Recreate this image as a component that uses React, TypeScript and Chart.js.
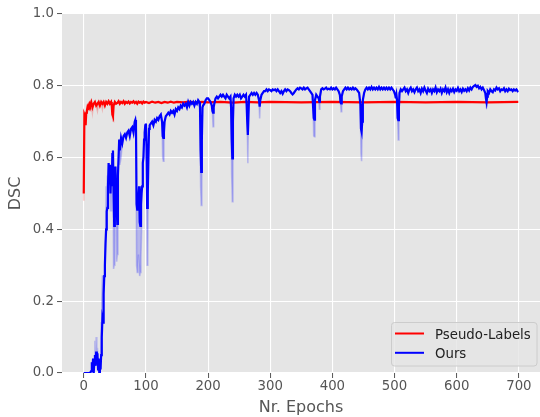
import React, { useEffect, useRef } from "react";
import { Chart, registerables } from "chart.js";

Chart.register(...registerables);

const xTicks = [0, 100, 200, 300, 400, 500, 600, 700];
const yTicks = [0, 0.2, 0.4, 0.6, 0.8, 1.0];
const seriesNames = ["Pseudo-Labels", "Ours"];
const seriesColors = ["#ff0000", "#0000ff"];
const xTitle = "Nr. Epochs";
const yTitle = "DSC";

// [epoch, DSC]
const pseudoCurve: [number, number][] = [
  [0, 0.5], [1, 0.72], [2, 0.715], [3, 0.69], [4, 0.725], [5, 0.73], [6, 0.74], [7, 0.735], [8, 0.745], [9, 0.75],
  [10, 0.745], [12, 0.755], [14, 0.74], [16, 0.75], [18, 0.755], [20, 0.745], [22, 0.75], [24, 0.755], [26, 0.745],
  [28, 0.755], [30, 0.75], [32, 0.755], [34, 0.745], [36, 0.755], [38, 0.75], [40, 0.757], [42, 0.75], [44, 0.755],
  [45, 0.745], [46, 0.72], [47, 0.715], [48, 0.745], [50, 0.755], [52, 0.75], [54, 0.752], [56, 0.757], [58, 0.75],
  [60, 0.755], [62, 0.752], [64, 0.757], [66, 0.75], [68, 0.755], [70, 0.752], [72, 0.756], [74, 0.751], [76, 0.755],
  [78, 0.753], [80, 0.757], [82, 0.752], [84, 0.755], [86, 0.75], [88, 0.756], [90, 0.753], [92, 0.755], [94, 0.751],
  [96, 0.756], [98, 0.753], [100, 0.755], [105, 0.752], [110, 0.756], [115, 0.753], [120, 0.755], [125, 0.752],
  [130, 0.755], [135, 0.753], [140, 0.756], [145, 0.753], [150, 0.755], [160, 0.754], [170, 0.756], [180, 0.753],
  [190, 0.755], [200, 0.754], [220, 0.755], [240, 0.753], [260, 0.755], [280, 0.754], [300, 0.755], [350, 0.754],
  [400, 0.755], [450, 0.754], [500, 0.755], [550, 0.754], [600, 0.755], [650, 0.754], [699, 0.755],
];

// lighter band extremes around the Pseudo-Labels curve
const pseudoBand: [number, number][] = [
  [0, 0.48], [14, 0.725], [22, 0.73], [30, 0.735], [47, 0.7],
];

const oursCurve: [number, number][] = [
  [0, 0], [5, 0], [10, 0], [12, 0.005], [13, 0.03], [14, 0.01], [15, 0.04], [16, 0.0], [17, 0.03], [18, 0.05],
  [19, 0.02], [20, 0.06], [21, 0.03], [22, 0.055], [23, 0.01], [24, 0.04], [25, 0.0], [26, 0.03], [27, 0.01],
  [28, 0.05], [29, 0.1], [30, 0.15], [31, 0.14], [32, 0.22], [33, 0.27], [34, 0.3], [35, 0.36], [36, 0.4],
  [37, 0.45], [38, 0.46], [39, 0.52], [40, 0.585], [41, 0.54], [42, 0.58], [43, 0.5], [44, 0.56], [45, 0.52],
  [46, 0.61], [47, 0.62], [48, 0.5], [49, 0.41], [50, 0.55], [51, 0.575], [52, 0.5], [53, 0.46], [54, 0.415],
  [55, 0.55], [56, 0.6], [57, 0.65], [58, 0.62], [60, 0.655], [62, 0.64], [64, 0.66], [66, 0.665], [68, 0.655],
  [70, 0.67], [72, 0.675], [74, 0.66], [76, 0.68], [78, 0.685], [80, 0.67], [82, 0.7], [83, 0.705], [84, 0.69],
  [85, 0.47], [86, 0.455], [87, 0.5], [88, 0.49], [89, 0.52], [90, 0.42], [91, 0.41], [92, 0.47], [93, 0.5],
  [94, 0.52], [95, 0.585], [96, 0.6], [97, 0.65], [98, 0.67], [99, 0.69], [100, 0.695], [101, 0.63], [102, 0.46],
  [103, 0.5], [104, 0.6], [105, 0.68], [106, 0.69], [108, 0.695], [110, 0.7], [112, 0.69], [114, 0.705],
  [116, 0.7], [118, 0.71], [120, 0.705], [122, 0.715], [124, 0.72], [126, 0.7], [127, 0.66], [128, 0.655],
  [129, 0.67], [130, 0.7], [132, 0.715], [134, 0.72], [136, 0.725], [138, 0.72], [140, 0.73], [142, 0.725],
  [144, 0.73], [146, 0.72], [148, 0.735], [150, 0.73], [152, 0.74], [154, 0.735], [156, 0.745], [158, 0.74],
  [160, 0.75], [162, 0.745], [164, 0.75], [166, 0.74], [168, 0.755], [170, 0.745], [172, 0.755], [174, 0.75],
  [176, 0.755], [178, 0.745], [180, 0.755], [182, 0.75], [184, 0.76], [186, 0.755], [187, 0.74], [188, 0.62],
  [189, 0.56], [190, 0.65], [191, 0.74], [192, 0.745], [194, 0.75], [196, 0.76], [198, 0.765], [200, 0.765],
  [202, 0.76], [204, 0.755], [206, 0.745], [207, 0.73], [208, 0.725], [209, 0.74], [210, 0.75], [212, 0.765],
  [214, 0.77], [216, 0.765], [218, 0.77], [220, 0.775], [222, 0.77], [224, 0.775], [226, 0.77], [228, 0.765],
  [230, 0.775], [232, 0.77], [234, 0.765], [236, 0.77], [237, 0.74], [238, 0.65], [239, 0.598], [240, 0.7],
  [241, 0.765], [243, 0.775], [245, 0.77], [247, 0.775], [249, 0.77], [251, 0.775], [253, 0.765], [255, 0.77],
  [257, 0.775], [259, 0.77], [261, 0.775], [262, 0.75], [263, 0.7], [264, 0.663], [265, 0.72], [266, 0.77],
  [268, 0.775], [270, 0.78], [272, 0.775], [274, 0.78], [276, 0.775], [278, 0.78], [280, 0.775], [282, 0.76],
  [283, 0.742], [284, 0.76], [286, 0.775], [288, 0.78], [290, 0.785], [292, 0.785], [294, 0.79], [296, 0.785],
  [298, 0.79], [300, 0.788], [302, 0.785], [304, 0.79], [306, 0.788], [308, 0.79], [310, 0.785], [312, 0.79],
  [314, 0.785], [316, 0.78], [318, 0.785], [320, 0.778], [322, 0.785], [324, 0.79], [326, 0.785], [328, 0.79],
  [330, 0.788], [332, 0.785], [334, 0.78], [336, 0.776], [338, 0.78], [340, 0.785], [342, 0.79], [344, 0.793],
  [346, 0.79], [348, 0.795], [350, 0.793], [352, 0.79], [354, 0.795], [356, 0.79], [358, 0.793], [360, 0.795],
  [362, 0.79], [364, 0.785], [366, 0.78], [368, 0.775], [369, 0.74], [370, 0.71], [371, 0.706], [372, 0.76],
  [374, 0.775], [376, 0.77], [378, 0.765], [379, 0.756], [380, 0.77], [382, 0.79], [384, 0.793], [386, 0.79],
  [388, 0.792], [390, 0.795], [392, 0.79], [394, 0.792], [396, 0.79], [398, 0.795], [400, 0.79], [402, 0.793],
  [404, 0.79], [406, 0.795], [408, 0.79], [410, 0.785], [412, 0.775], [413, 0.755], [414, 0.751], [415, 0.77],
  [417, 0.785], [419, 0.79], [421, 0.795], [423, 0.79], [425, 0.795], [427, 0.79], [429, 0.793], [431, 0.79],
  [433, 0.795], [435, 0.79], [437, 0.793], [439, 0.79], [441, 0.785], [443, 0.78], [445, 0.75], [446, 0.68],
  [447, 0.672], [448, 0.7], [449, 0.76], [451, 0.78], [453, 0.79], [455, 0.795], [457, 0.79], [459, 0.795],
  [461, 0.79], [463, 0.797], [465, 0.79], [467, 0.795], [469, 0.79], [471, 0.795], [473, 0.79], [475, 0.797],
  [477, 0.79], [479, 0.795], [481, 0.79], [483, 0.795], [485, 0.79], [487, 0.795], [489, 0.79], [491, 0.795],
  [493, 0.79], [495, 0.795], [497, 0.79], [499, 0.785], [501, 0.775], [502, 0.765], [503, 0.775], [504, 0.76],
  [505, 0.71], [506, 0.704], [507, 0.74], [508, 0.78], [510, 0.79], [512, 0.785], [514, 0.79], [516, 0.795],
  [518, 0.785], [520, 0.79], [522, 0.78], [524, 0.79], [526, 0.795], [528, 0.785], [530, 0.79], [532, 0.782],
  [534, 0.79], [536, 0.795], [538, 0.785], [540, 0.79], [542, 0.78], [544, 0.792], [546, 0.785], [548, 0.795],
  [550, 0.787], [552, 0.78], [554, 0.792], [556, 0.785], [558, 0.79], [560, 0.78], [562, 0.79], [564, 0.785],
  [566, 0.795], [568, 0.782], [570, 0.79], [572, 0.785], [574, 0.792], [576, 0.78], [578, 0.79], [580, 0.785],
  [582, 0.795], [584, 0.782], [586, 0.79], [588, 0.78], [590, 0.79], [592, 0.785], [594, 0.792], [596, 0.783],
  [598, 0.79], [600, 0.786], [602, 0.794], [604, 0.785], [606, 0.79], [608, 0.783], [610, 0.792], [612, 0.786],
  [614, 0.79], [616, 0.785], [618, 0.793], [620, 0.787], [622, 0.795], [624, 0.79], [626, 0.797], [628, 0.8],
  [630, 0.802], [632, 0.797], [634, 0.8], [636, 0.793], [638, 0.797], [640, 0.79], [642, 0.795], [644, 0.788],
  [646, 0.78], [647, 0.765], [648, 0.755], [649, 0.77], [650, 0.785], [652, 0.78], [654, 0.79], [656, 0.785],
  [658, 0.782], [660, 0.79], [662, 0.787], [664, 0.795], [666, 0.79], [668, 0.793], [670, 0.785], [672, 0.79],
  [674, 0.788], [676, 0.793], [678, 0.785], [680, 0.79], [682, 0.785], [684, 0.792], [686, 0.788], [688, 0.79],
  [690, 0.785], [692, 0.79], [694, 0.787], [696, 0.79], [698, 0.785], [699, 0.786],
];

// lighter band extremes around the "Ours" curve
const oursBand: [number, number][] = [
  [18, 0.09], [20, 0.1], [22, 0.07], [28, 0.14], [29, 0.2], [30, 0.27], [31, 0.27], [32, 0.27], [36, 0.52],
  [38, 0.55], [43, 0.45], [45, 0.45], [48, 0.29], [49, 0.3], [53, 0.31], [54, 0.33], [58, 0.58], [60, 0.6],
  [85, 0.3], [86, 0.28], [87, 0.29], [88, 0.33], [89, 0.3], [90, 0.27], [91, 0.28], [92, 0.32], [93, 0.4],
  [102, 0.3], [103, 0.33], [127, 0.6], [128, 0.59], [188, 0.52], [189, 0.467], [208, 0.686], [238, 0.55],
  [239, 0.477], [264, 0.584], [283, 0.709], [370, 0.66], [371, 0.658], [379, 0.735], [414, 0.728],
  [446, 0.61], [447, 0.59], [506, 0.649], [648, 0.737],
];

const FONT = "'DejaVu Sans', 'Liberation Sans', sans-serif";

function toPoints(curve: [number, number][]) {
  return curve.map(([x, y]) => ({ x, y }));
}

function bandPoints(curve: [number, number][], band: [number, number][]) {
  const m = new Map(band);
  return curve.map(([x, y]) => ({ x, y: m.has(x) ? (m.get(x) as number) : y }));
}

const backgroundPlugin = {
  id: "ggBackground",
  beforeDraw(chart: any) {
    const { ctx, chartArea } = chart;
    ctx.save();
    ctx.fillStyle = "#E5E5E5";
    ctx.fillRect(chartArea.left, chartArea.top, chartArea.right - chartArea.left, chartArea.bottom - chartArea.top);
    ctx.restore();
  },
};

const legendPlugin = {
  id: "ggLegend",
  afterDraw(chart: any) {
    const { ctx } = chart;
    ctx.save();
    const x = 391.5, y = 322.5, w = 145.5, h = 43.5;
    ctx.beginPath();
    if (ctx.roundRect) ctx.roundRect(x, y, w, h, 3);
    else ctx.rect(x, y, w, h);
    ctx.fillStyle = "rgba(229,229,229,0.8)";
    ctx.fill();
    ctx.strokeStyle = "#cccccc";
    ctx.lineWidth = 1;
    ctx.stroke();
    seriesNames.forEach((name, i) => {
      const ly = 333.5 + i * 19.3;
      ctx.beginPath();
      ctx.strokeStyle = seriesColors[i];
      ctx.lineWidth = 2;
      ctx.moveTo(395, ly);
      ctx.lineTo(424, ly);
      ctx.stroke();
      ctx.fillStyle = "#222222";
      ctx.font = `13.3px ${FONT}`;
      ctx.textBaseline = "alphabetic";
      ctx.textAlign = "left";
      ctx.fillText(name, 435, ly + 5);
    });
    ctx.restore();
  },
};

export default function App() {
  const canvasRef = useRef<HTMLCanvasElement | null>(null);

  useEffect(() => {
    const canvas = canvasRef.current;
    if (!canvas) return;
    const chart = new Chart(canvas, {
      type: "line",
      data: {
        datasets: [
          {
            label: seriesNames[1],
            data: toPoints(oursCurve),
            borderColor: seriesColors[1],
            borderWidth: 2.2,
            pointRadius: 0,
            tension: 0,
            fill: false,
          },
          {
            label: "Ours band",
            data: bandPoints(oursCurve, oursBand),
            borderWidth: 1.6,
            borderColor: "rgba(0,0,255,0.2)",
            backgroundColor: "rgba(0,0,255,0.2)",
            pointRadius: 0,
            tension: 0,
            fill: "-1",
          },
          {
            label: seriesNames[0],
            data: toPoints(pseudoCurve),
            borderColor: seriesColors[0],
            borderWidth: 2.2,
            pointRadius: 0,
            tension: 0,
            fill: false,
          },
          {
            label: "Pseudo band",
            data: bandPoints(pseudoCurve, pseudoBand),
            borderWidth: 1.6,
            borderColor: "rgba(255,0,0,0.2)",
            backgroundColor: "rgba(255,0,0,0.2)",
            pointRadius: 0,
            tension: 0,
            fill: "-1",
          },
        ],
      },
      options: {
        animation: false,
        responsive: false,
        maintainAspectRatio: false,
        layout: { padding: { top: 14, right: 0, bottom: 0, left: 0 } },
        plugins: {
          legend: { display: false },
          tooltip: { enabled: false },
        },
        scales: {
          x: {
            type: "linear",
            min: -35,
            max: 734,
            afterBuildTicks: (scale: any) => {
              scale.ticks = xTicks.map((v) => ({ value: v }));
            },
            afterFit: (scale: any) => {
              scale.height = 44;
            },
            ticks: {
              color: "#555555",
              font: { family: FONT, size: 13.3 },
              padding: 1,
              maxRotation: 0,
              autoSkip: false,
              callback: (v: any) => String(v),
            },
            grid: {
              color: "#ffffff",
              lineWidth: 1.1,
              tickColor: "#555555",
              tickLength: 5,
              tickWidth: 1,
            },
            border: { display: false },
            title: {
              display: true,
              text: xTitle,
              color: "#555555",
              font: { family: FONT, size: 16 },
              padding: { top: 0, bottom: 0 },
            },
          },
          y: {
            type: "linear",
            min: 0,
            max: 1,
            afterBuildTicks: (scale: any) => {
              scale.ticks = yTicks.map((v) => ({ value: v }));
            },
            afterFit: (scale: any) => {
              scale.width = 62;
            },
            ticks: {
              color: "#555555",
              font: { family: FONT, size: 13.3 },
              padding: 3,
              callback: (v: any) => Number(v).toFixed(1),
            },
            grid: {
              color: "#ffffff",
              lineWidth: 1.1,
              tickColor: "#555555",
              tickLength: 5,
              tickWidth: 1,
            },
            border: { display: false },
            title: {
              display: true,
              text: yTitle,
              color: "#555555",
              font: { family: FONT, size: 16 },
              padding: { top: 6.5, bottom: 0 },
            },
          },
        },
      },
      plugins: [backgroundPlugin, legendPlugin],
    } as any);
    return () => chart.destroy();
  }, []);

  return (
    <div style={{ position: "absolute", left: 0, top: 0, width: 540, height: 417, background: "#ffffff" }}>
      <canvas ref={canvasRef} width={540} height={417} style={{ display: "block" }} />
    </div>
  );
}
